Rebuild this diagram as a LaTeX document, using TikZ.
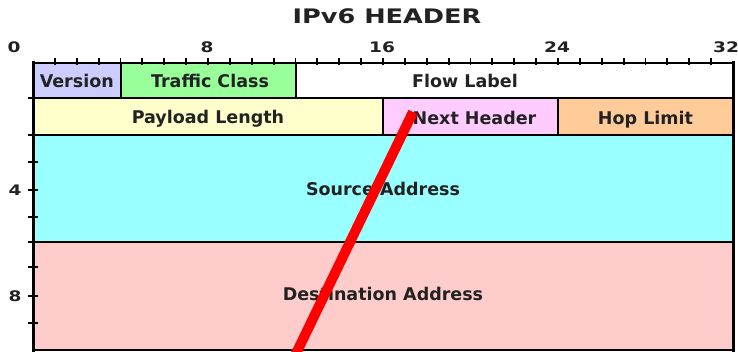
\documentclass[tikz,border=0pt]{standalone}
\usepackage{fontspec}
\setmainfont{DejaVu Sans}
\newfontfamily\titlefont[FakeStretch=1.28]{DejaVu Sans}
\definecolor{verc}{HTML}{CCCCFF}
\definecolor{trc}{HTML}{99FF99}
\definecolor{plc}{HTML}{FFFFCC}
\definecolor{nhc}{HTML}{FFCCFF}
\definecolor{hlc}{HTML}{FFCC99}
\definecolor{sac}{HTML}{99FFFF}
\definecolor{dac}{HTML}{FFCCCC}
\definecolor{txt}{HTML}{222222}
\begin{document}
\begin{tikzpicture}[x=1pt,y=-1pt,
  field/.style={draw=black, line width=2pt, anchor=north west, inner sep=0pt, outer sep=0pt},
  lab/.style={text=txt, inner sep=0pt, text height=12.8pt, text depth=0pt, font=\bfseries\fontsize{17.5}{20}\selectfont},
  num/.style={text=txt, inner sep=0pt, text height=10.6pt, text depth=0pt, font=\titlefont\bfseries\fontsize{14.5}{17}\selectfont},
  tickline/.style={line width=1.8pt, black},
  strike/.style={line width=10pt, red, line cap=butt}]
\useasboundingbox (0,0) rectangle (738,352);
\clip (0,0) rectangle (738,352);
\fill[white] (0,0) rectangle (738,352);
% title
\node[text=txt, inner sep=0pt, text height=14.6pt, text depth=0pt, font=\titlefont\bfseries\fontsize{20}{24}\selectfont] (title) at (387,16.5) {IPv6 HEADER};
% fields
\node[field, fill=verc, minimum width=87.5pt, minimum height=35pt] (ver) at (33,63) {};
\node[field, fill=trc, minimum width=175pt, minimum height=35pt] (tc) at (120.5,63) {};
\node[field, fill=white, minimum width=437.5pt, minimum height=35pt] (fl) at (295.5,63) {};
\node[field, fill=plc, minimum width=350pt, minimum height=37pt] (pl) at (33,98) {};
\node[field, fill=nhc, minimum width=175pt, minimum height=37pt] (nh) at (383,98) {};
\node[field, fill=hlc, minimum width=175pt, minimum height=37pt] (hl) at (558,98) {};
\node[field, fill=sac, minimum width=700pt, minimum height=107pt] (sa) at (33,135) {};
\node[field, fill=dac, minimum width=700pt, minimum height=108pt] (da) at (33,242) {};
% outer frame
\draw[line width=3pt] (33,61.5) -- (33,352);
\draw[line width=3pt] (733,61.5) -- (733,352);
\draw[line width=2.5pt] (31.5,63) -- (734.5,63);
\draw[line width=2.5pt] (33,350) -- (733,350);
% labels
\node[lab] (tver) at ([yshift=-1pt]ver.center) {Version};
\node[lab] (ttc) at ([xshift=2pt,yshift=-0.5pt]tc.center) {Traffic Class};
\node[lab] (tfl) at (465,81) {Flow Label};
\node[lab] (tpl) at ([yshift=-1pt]pl.center) {Payload Length};
\node[lab] (tnh) at ([xshift=4pt,yshift=-1.5pt]nh.center) {Next Header};
\node[lab] (thl) at ([yshift=-1.5pt]hl.center) {Hop Limit};
\node[lab] (tsa) at ([yshift=-0.5pt]sa.center) {Source Address};
\node[lab] (tda) at ([yshift=2pt]da.center) {Destination Address};
% top ruler
\foreach \i in {1,...,31} \draw[tickline] ({33+21.875*\i},58) -- ({33+21.875*\i},65);
\node[num] (n0) at (14,47) {0};
\node[num] (n8) at (207,47) {8};
\node[num] (n16) at (382,47) {16};
\node[num] (n24) at (557,47) {24};
\node[num] (n32) at (726,47.5) {32};
% left ruler
\foreach \y in {98,135,162,190,217,242,267,296,323} \draw[tickline] (28,\y) -- (38,\y);
\node[num] (n4) at (15,190) {4};
\node[num] (n8b) at (15,296) {8};
% strike line
\coordinate (sTop) at (413,112);
\coordinate (sBot) at (290,366);
\draw[strike] (sTop) -- (sBot);
\end{tikzpicture}
\end{document}
